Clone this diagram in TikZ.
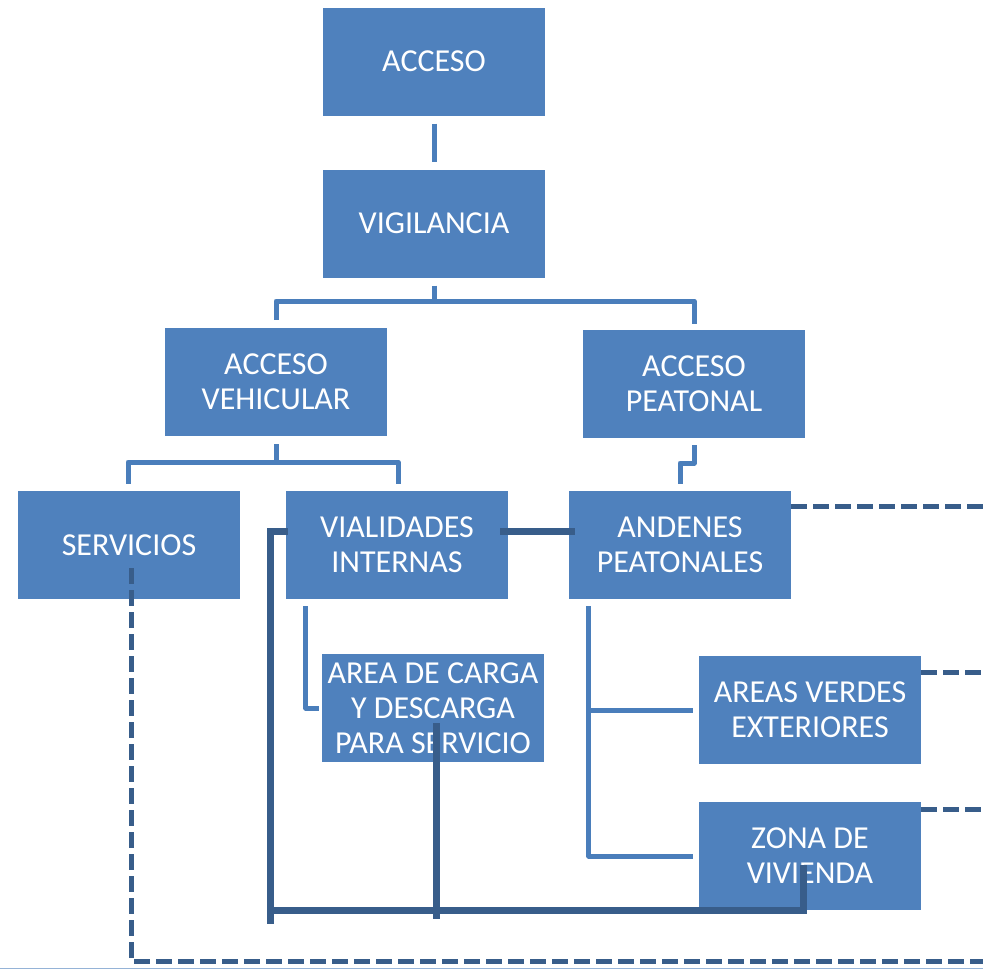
\documentclass[tikz,border=0pt]{standalone}
\usepackage{fontspec}
\setmainfont{Carlito}
\usetikzlibrary{calc}
\definecolor{boxblue}{HTML}{4F81BD}
\definecolor{linkblue}{HTML}{4A7EBB}
\definecolor{darkblue}{HTML}{385D8A}
\definecolor{edgeblue}{HTML}{95B3D7}
\tikzset{
  box/.style={fill=boxblue, minimum width=222pt, minimum height=108pt, inner sep=0pt,
    align=center, text=white, font=\fontsize{32}{35}\selectfont},
  conn/.style={draw=linkblue, line width=5pt, line join=round},
  dark/.style={draw=darkblue, line width=7pt, line join=miter},
  dashline/.style={draw=darkblue, line width=5pt, dash pattern=on 16pt off 6pt}
}
\begin{document}
\begin{tikzpicture}[x=1pt,y=-1pt]
\useasboundingbox (0,0) rectangle (983,970);
% boxes
\node[box] (acceso) at (434,61.5) {ACCESO};
\node[box] (vig) at (434,223.5) {VIGILANCIA};
\node[box] (veh) at (276,382) {ACCESO\\VEHICULAR};
\node[box] (peat) at (694,384) {ACCESO\\PEATONAL};
\node[box] (serv) at (129,545) {SERVICIOS};
\node[box] (vial) at (397,545) {VIALIDADES\\INTERNAS};
\node[box] (and) at (680,545) {ANDENES\\PEATONALES};
\node[box] (carga) at (433,708) {AREA DE CARGA\\Y DESCARGA\\PARA SERVICIO};
\node[box] (verdes) at (810,710) {AREAS VERDES\\EXTERIORES};
\node[box] (zona) at (810,856) {ZONA DE\\VIVIENDA};
% bend points
\coordinate (b1) at (434,301);
\coordinate (b2) at (276,462);
\coordinate (b3) at (680,463);
\coordinate (d1) at (270,531);
\coordinate (d2) at (270,924);
\coordinate (d3) at (270,910);
\coordinate (d4) at (803,910);
\coordinate (d5) at (436,919);
\coordinate (s1) at (131,961);
\coordinate (s2) at (983,961);
\coordinate (e1) at (983,506);
\coordinate (e2) at (983,672);
\coordinate (e3) at (983,809);
% light connectors
\draw[conn] ([yshift=-8pt]acceso.south) -- ([yshift=7pt]vig.north);
\draw[conn] ([yshift=-8pt]vig.south) -- (b1) -| ([yshift=8pt]veh.north);
\draw[conn] (b1) -| ([yshift=6pt]peat.north);
\draw[conn] ([yshift=-8pt]veh.south) -- (b2) -| ([xshift=-1pt,yshift=7pt]serv.north);
\draw[conn] (b2) -| ([xshift=1pt,yshift=7pt]vial.north);
\draw[conn] ([yshift=-7pt]peat.south) |- (b3) -- ([yshift=7pt]and.north);
\draw[conn] ([xshift=20pt,yshift=-7pt]vial.south west) |- ([xshift=-3pt]carga.west);
\draw[conn] ([xshift=20pt,yshift=-7pt]and.south west) |- ([xshift=-6pt]verdes.west);
\draw[conn] ([xshift=20pt,yshift=-7pt]and.south west) |- ([xshift=-6pt]zona.west);
% dark connectors
\draw[dark] ([xshift=-8pt,yshift=14pt]vial.east) -- ([xshift=6pt,yshift=14pt]and.west);
\draw[dark] ([xshift=2pt,yshift=14pt]vial.west) -- (d1) -- (d2);
\draw[dark] (d3) -- (d4) -- ([xshift=-7pt,yshift=-9pt]zona.center);
\draw[dark] ([xshift=3pt,yshift=-15pt]carga.center) -- (d5);
% dashed connectors
\draw[dashline] ([xshift=2pt,yshift=-23pt]serv.center) -- (s1) -- (s2);
\draw[dashline] ([yshift=39pt]and.east) -- (e1);
\draw[dashline] ([yshift=38pt]verdes.east) -- (e2);
\draw[dashline] ([yshift=47pt]zona.east) -- (e3);
% bottom edge line
\draw[edgeblue, line width=1.5pt] (0,968.5) -- (983,968.5);
\end{tikzpicture}
\end{document}
